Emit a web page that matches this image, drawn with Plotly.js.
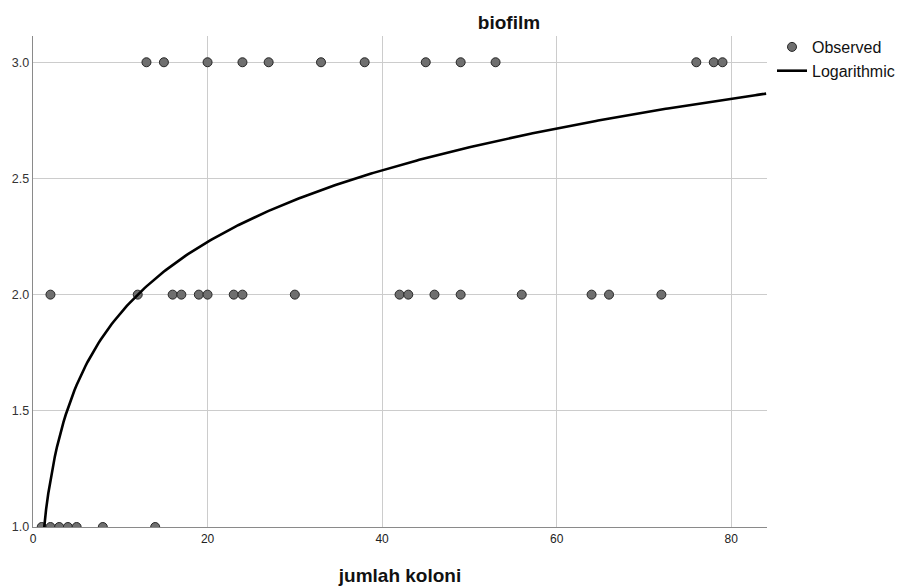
<!DOCTYPE html>
<html>
<head>
<meta charset="utf-8">
<script src="https://cdn.plot.ly/plotly-3.0.1.min.js"></script>
<style>html,body{margin:0;padding:0;background:#fff;}#chart{width:897px;height:588px;}</style>
</head>
<body>
<div id="chart"></div>
<script>
// Observed points (jumlah koloni vs biofilm)
const koloniBiofilm3 = [13, 15, 20, 24, 27, 33, 38, 45, 49, 53, 76, 78, 79];
const koloniBiofilm2 = [2, 12, 16, 17, 19, 20, 23, 24, 30, 42, 43, 46, 49, 56, 64, 66, 72];
const koloniBiofilm1 = [1, 2, 3, 4, 5, 8, 14];
// Logarithmic fit: biofilm = a + b * ln(koloni)
const fitIntercept = 0.8955;
const fitSlope = 0.4445;
const xTickVals = [0, 20, 40, 60, 80];
const yTickVals = [1.0, 1.5, 2.0, 2.5, 3.0];

const obsX = [].concat(koloniBiofilm3, koloniBiofilm2, koloniBiofilm1);
const obsY = [].concat(koloniBiofilm3.map(() => 3), koloniBiofilm2.map(() => 2), koloniBiofilm1.map(() => 1));

const curveX = [], curveY = [];
for (let x = 1; x <= 84.001; x += 0.25) {
  curveX.push(x);
  curveY.push(fitIntercept + fitSlope * Math.log(x));
}

const font = 'Liberation Sans, Arial, sans-serif';
const traces = [
  {
    x: obsX, y: obsY, type: 'scatter', mode: 'markers', name: 'Observed', legendgroup: 'obs',
    marker: {size: 9, color: '#6f6f6f', line: {color: '#262626', width: 1}},
    cliponaxis: true
  },
  {
    x: curveX, y: curveY, type: 'scatter', mode: 'lines', name: 'Logarithmic', legendgroup: 'fit',
    line: {color: '#000000', width: 2.6}
  }
];

const layout = {
  width: 897, height: 588,
  margin: {l: 33, r: 130, t: 36, b: 61, pad: 0, autoexpand: false},
  paper_bgcolor: '#ffffff', plot_bgcolor: '#ffffff',
  font: {family: font, size: 11, color: '#333333'},
  title: {text: '<b>biofilm</b>', font: {family: font, size: 19, color: '#111111'},
          x: 509 / 897, xref: 'container', xanchor: 'center', y: 1 - 22 / 588, yref: 'container', yanchor: 'middle'},
  xaxis: {
    range: [0, 84.1], tickvals: xTickVals, ticktext: xTickVals.map(String),
    showgrid: true, gridcolor: '#cccccc', gridwidth: 1, zeroline: false,
    showline: true, linecolor: '#8a8a8a', linewidth: 1.3, ticks: '',
    tickfont: {family: font, size: 12, color: '#222222'},
    title: {text: '<b>jumlah koloni</b>', font: {family: font, size: 19, color: '#111111'}, standoff: 24}
  },
  yaxis: {
    range: [1.0, 3.113], tickvals: yTickVals, ticktext: yTickVals.map(v => v.toFixed(1)),
    showgrid: true, gridcolor: '#cccccc', gridwidth: 1, zeroline: false,
    showline: true, linecolor: '#8a8a8a', linewidth: 1.3, ticks: '',
    tickfont: {family: font, size: 12.5, color: '#333333'}
  },
  showlegend: true,
  legend: {
    xref: 'container', yref: 'container',
    x: 772 / 897, xanchor: 'left', y: 1 - 30 / 588, yanchor: 'top',
    traceorder: 'grouped', tracegroupgap: 0,
    font: {family: font, size: 16, color: '#111111'},
    bgcolor: 'rgba(0,0,0,0)', borderwidth: 0
  }
};

Plotly.newPlot('chart', traces, layout, {displayModeBar: false, staticPlot: true});
</script>
</body>
</html>
